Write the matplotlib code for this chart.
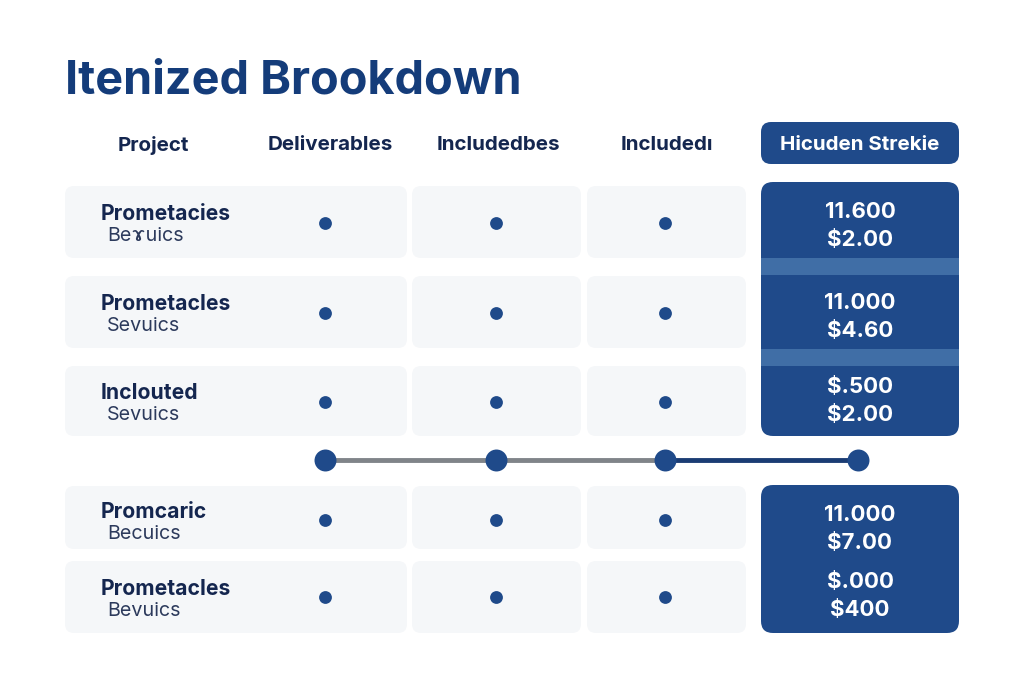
import matplotlib
matplotlib.use("Agg")
import matplotlib.pyplot as plt
from matplotlib.patches import FancyBboxPatch, Rectangle

# values
title = "Itenized Brookdown"
headers = ["Project", "Deliverables", "Includedbes", "Includedı", "Hicuden Strekie"]
row_names = ["Prometacies", "Prometacles", "Inclouted", "Promcaric", "Prometacles"]
row_subs = ["Beɤuics", "Sevuics", "Sevuics", "Becuics", "Bevuics"]
amount_top = ["11.600", "11.000", "$.500", "11.000", "$.000"]
amount_bottom = ["$2.00", "$4.60", "$2.00", "$7.00", "$400"]
included = [[1, 1, 1], [1, 1, 1], [1, 1, 1], [1, 1, 1], [1, 1, 1]]
timeline_steps = [0, 1, 2, 3]

# layout in pixels
NAVY = "#1f4a8a"
TITLE = "#143c7a"
DARK = "#14264f"
CELL = "#f5f7f9"
STRIPE = "#406ea6"
col_left = [65, 412, 587]
col_right = [407, 581, 746]
col_dot = [325, 496, 665]
row_top = [186, 276, 366, 486, 561]
row_bot = [258, 348, 436, 549, 633]
row_dot = [223, 313, 402, 520, 597]
name_y = [214, 304, 393, 512, 589]
sub_y = [236, 326, 415, 534, 611]
name_x = [101, 101, 101, 101, 101]
sub_x = [107, 107, 107, 107, 107]
top_y = [212, 303, 387, 515, 582]
bot_y = [240, 331, 415, 543, 610]
header_x = [153, 330, 498, 667, 860]
step_x = [325, 496, 665, 858]

plt.rcParams["font.family"] = ["Inter", "DejaVu Sans"]

fig = plt.figure(figsize=(10.24, 6.83), dpi=100, facecolor="white")
ax = fig.add_axes([0, 0, 1, 1])
ax.set_xlim(0, 1024)
ax.set_ylim(683, 0)
ax.axis("off")


def box(x0, y0, x1, y1, color, rad=10, z=1):
    p = FancyBboxPatch((x0 + rad, y0 + rad), x1 - x0 - 2 * rad, y1 - y0 - 2 * rad,
                       boxstyle=f"round,pad={rad},rounding_size={rad}",
                       fc=color, ec="none", zorder=z)
    ax.add_patch(p)


ax.text(65, 81, title, fontsize=33.7, fontweight="bold", color=TITLE, ha="left", va="center")

# header row
box(761, 122, 959, 164, NAVY, rad=10)
for i, h in enumerate(headers):
    c = "white" if i == 4 else DARK
    ax.text(header_x[i], 145.5, h, fontsize=14.8, fontweight="bold", color=c, ha="center", va="center")

# grey cells, name labels and dots
for r in range(len(row_names)):
    for c in range(3):
        box(col_left[c], row_top[r], col_right[c], row_bot[r], CELL, rad=9)
        if included[r][c]:
            ax.scatter(col_dot[c], row_dot[r], s=85, color=NAVY, zorder=3, linewidths=0)
    ax.text(name_x[r], name_y[r], row_names[r], fontsize=15.2, fontweight="bold", color=DARK, ha="left", va="center")
    ax.text(sub_x[r], sub_y[r], row_subs[r], fontsize=14.2, color="#2c3a5c", ha="left", va="center")

# blue amount blocks
box(761, 182, 959, 436, NAVY, rad=12)
box(761, 485, 959, 633, NAVY, rad=12)
ax.add_patch(Rectangle((761, 258), 198, 17, fc=STRIPE, ec="none", zorder=2))
ax.add_patch(Rectangle((761, 349), 198, 17, fc=STRIPE, ec="none", zorder=2))
for r in range(len(amount_top)):
    ax.text(860, top_y[r], amount_top[r], fontsize=16, fontweight="bold", color="white", ha="center", va="center", zorder=4)
    ax.text(860, bot_y[r], amount_bottom[r], fontsize=16, fontweight="bold", color="white", ha="center", va="center", zorder=4)

# connector line between the columns
ax.plot([step_x[timeline_steps[0]], step_x[timeline_steps[2]]], [460, 460], color="#808489", lw=3.5, zorder=2, solid_capstyle="butt")
ax.plot([step_x[timeline_steps[2]], step_x[timeline_steps[3]]], [460, 460], color="#1a3c74", lw=3.5, zorder=2, solid_capstyle="butt")
ax.scatter([step_x[s] for s in timeline_steps], [460] * len(timeline_steps), s=250, color=NAVY, zorder=3, linewidths=0)

fig.savefig("out.png", dpi=100)
